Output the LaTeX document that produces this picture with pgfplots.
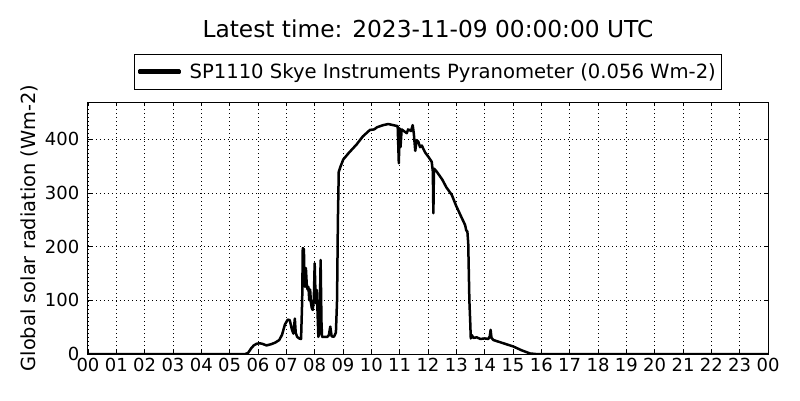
\documentclass[border=0pt]{standalone}
\usepackage{pgfplots}
\pgfplotsset{compat=1.18}
\usepackage{fontspec}
\setmainfont{DejaVu Sans}
\begin{document}
\begin{tikzpicture}
\path[use as bounding box] (-88pt,-46pt) rectangle (712pt,354pt);
\begin{axis}[
  scale only axis, width=680pt, height=252pt,
  at={(0pt,0pt)}, anchor=south west,
  xmin=0, xmax=24, ymin=0, ymax=469,
  xtick={0,1,...,24},
  xticklabels={00,01,02,03,04,05,06,07,08,09,10,11,12,13,14,15,16,17,18,19,20,21,22,23,00},
  ytick={0,100,200,300,400},
  yticklabels={0,100,200,300,400},
  /pgf/number format/assume math mode=true,
  tick align=inside,
  major tick length=4pt,
  tick style={black, line width=0.6pt},
  xticklabel style={inner sep=0pt, yshift=-4pt, font=\fontsize{18}{18}\selectfont},
  yticklabel style={inner sep=0pt, xshift=-8.5pt, font=\fontsize{18}{18}\selectfont},
  grid=major,
  major grid style={black, dash pattern=on 1pt off 3pt, line width=0.6pt},
  axis line style={black, line width=1pt},
  ylabel={Global solar radiation (Wm-2)},
  ylabel style={at={(axis description cs:-0.0868,0.5)}, anchor=center, font=\fontsize{19.4}{19.4}\selectfont},
  title={Latest time: 2023-11-09 00:00:00 UTC},
  title style={at={(axis description cs:0.5,1)}, anchor=base, yshift=59pt, font=\fontsize{23.3}{23.3}\selectfont},
  legend style={at={(axis description cs:0.5,1.0476)}, anchor=south, draw=black, line width=1pt,
    font=\fontsize{19.6}{19.6}\selectfont, inner xsep=4pt, inner ysep=7.5pt},
  legend image code/.code={\fill[black] (0pt,-1.1pt) rectangle (40pt,1.1pt); \path (47pt,0pt);},
  legend cell align=left,
]
\addplot[black, line width=2.5pt, line join=round] coordinates {
(0,0) (5.55,0) (5.65,2) (5.75,10) (5.85,16) (5.95,19) (6.05,20) (6.15,19) (6.3,16) (6.45,18) (6.6,21) (6.75,26) (6.85,36) (6.95,55) (7.05,64) (7.12,63) (7.2,45) (7.25,38) (7.3,66) (7.33,40) (7.38,32) (7.45,29) (7.52,28) (7.56,100) (7.58,197) (7.62,195) (7.64,140) (7.66,125) (7.69,160) (7.72,130) (7.75,120) (7.78,125) (7.81,100) (7.84,120) (7.87,95) (7.9,85) (7.93,82) (7.97,100) (8.0,169) (8.03,110) (8.05,94) (8.08,119) (8.1,80) (8.13,32) (8.17,40) (8.21,175) (8.24,60) (8.26,32) (8.35,32) (8.45,32) (8.5,35) (8.55,51) (8.6,33) (8.68,32) (8.75,40) (8.79,100) (8.82,250) (8.85,339) (8.92,350) (9.01,362) (9.2,374) (9.48,390) (9.7,405) (9.95,417) (10.1,418) (10.2,422) (10.42,426) (10.6,428) (10.85,425) (10.93,424) (10.97,355) (11.0,420) (11.03,385) (11.07,418) (11.25,411) (11.3,418) (11.4,415) (11.46,426) (11.5,410) (11.55,378) (11.6,398) (11.66,395) (11.72,385) (11.78,388) (11.9,375) (12.0,368) (12.13,358) (12.17,340) (12.19,262) (12.21,345) (12.3,340) (12.5,325) (12.65,310) (12.84,296) (13.0,275) (13.15,258) (13.31,240) (13.35,230) (13.39,228) (13.42,206) (13.46,100) (13.49,60) (13.51,29) (13.55,35) (13.6,30) (13.72,31) (13.85,28) (14.0,29) (14.13,28) (14.18,33) (14.21,45) (14.24,30) (14.31,26) (14.6,21) (15.01,14) (15.3,7) (15.6,1) (15.8,0) (24,0)
};
\addlegendentry{SP1110 Skye Instruments Pyranometer (0.056 Wm-2)}
\end{axis}
\end{tikzpicture}
\end{document}
